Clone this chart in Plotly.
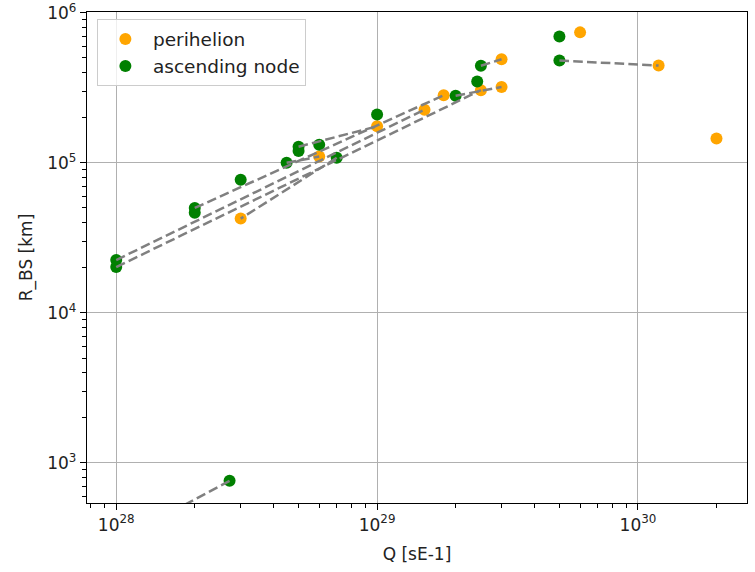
import plotly.graph_objects as go

# Perihelion points: production rate Q [s^-1] and bow shock distance R_BS [km]
peri_q = [6.0e29, 3.0e29, 3.0e29, 2.5e29, 1.8e29, 1.52e29, 1.0e29, 6.0e28, 3.0e28, 1.2e30, 2.0e30, 1.0e28]
peri_r = [7.4e5, 4.9e5, 3.2e5, 3.05e5, 2.82e5, 2.26e5, 1.75e5, 1.1e5, 4.25e4, 4.45e5, 1.45e5, 3.0e2]

# Ascending node points
asc_q = [5.0e29, 5.0e29, 2.5e29, 2.42e29, 2.0e29, 1.0e29, 5.0e28, 5.0e28, 6.0e28, 4.5e28,
         7.0e28, 3.0e28, 2.0e28, 2.0e28, 1.0e28, 1.0e28, 2.72e28]
asc_r = [6.95e5, 4.8e5, 4.43e5, 3.48e5, 2.8e5, 2.1e5, 1.28e5, 1.2e5, 1.32e5, 1.0e5,
         1.08e5, 7.7e4, 5.0e4, 4.65e4, 2.25e4, 2.02e4, 7.6e2]

# Connected pairs (index into ascending-node arrays, index into perihelion arrays)
pair_asc = [1, 2, 16, 10, 14, 15, 12, 4, 6, 9]
pair_peri = [9, 1, 11, 8, 5, 3, 4, 2, 6, 7]

x_ticks = [1e28, 1e29, 1e30]
x_text = ["10<sup>28</sup>", "10<sup>29</sup>", "10<sup>30</sup>"]
y_ticks = [1e3, 1e4, 1e5, 1e6]
y_text = ["10<sup>3</sup>", "10<sup>4</sup>", "10<sup>5</sup>", "10<sup>6</sup>"]

x_minor = [m * 10.0 ** e for e in (27, 28, 29, 30) for m in range(2, 10)]
y_minor = [m * 10.0 ** e for e in (2, 3, 4, 5) for m in range(2, 10)]

line_x, line_y = [], []
for a, p in zip(pair_asc, pair_peri):
    line_x += [asc_q[a], peri_q[p], None]
    line_y += [asc_r[a], peri_r[p], None]

FONT = "DejaVu Sans"
fig = go.Figure()
fig.add_trace(go.Scatter(x=peri_q, y=peri_r, mode="markers", name="perihelion",
                         marker=dict(color="orange", size=12, line=dict(width=0))))
fig.add_trace(go.Scatter(x=asc_q, y=asc_r, mode="markers", name="ascending node",
                         marker=dict(color="green", size=12, line=dict(width=0))))
fig.add_trace(go.Scatter(x=line_x, y=line_y, mode="lines", showlegend=False,
                         line=dict(color="gray", width=2.5, dash="9.6px,4.2px"),
                         hoverinfo="skip"))

axis_common = dict(
    type="log", showline=True, linecolor="black", linewidth=1.4, mirror=True,
    showgrid=True, gridcolor="#b0b0b0", gridwidth=1.4, zeroline=False,
    ticks="outside", ticklen=6, tickwidth=1.4, tickcolor="black", automargin=False,
    tickfont=dict(family=FONT, size=17, color="#222222"),
)

fig.update_xaxes(**axis_common, range=[27.888, 30.418], tickmode="array",
                 tickvals=x_ticks, ticktext=x_text,
                 minor=dict(tickmode="array", tickvals=x_minor, ticks="outside",
                            ticklen=3.5, tickwidth=1.1, tickcolor="black", showgrid=False),
                 title=dict(text="Q [sE-1]", font=dict(family=FONT, size=17, color="#222222"),
                            standoff=14))
fig.update_yaxes(**axis_common, range=[2.733, 6.005], tickmode="array",
                 tickvals=y_ticks, ticktext=y_text,
                 minor=dict(tickmode="array", tickvals=y_minor, ticks="outside",
                            ticklen=3.5, tickwidth=1.1, tickcolor="black", showgrid=False),
                 title=dict(text="R_BS [km]", font=dict(family=FONT, size=17, color="#222222"),
                            standoff=10))

fig.update_layout(
    width=755, height=572,
    margin=dict(l=87, r=8, t=12, b=69),
    paper_bgcolor="white", plot_bgcolor="white",
    font=dict(family=FONT, size=17, color="#222222"),
    legend=dict(x=0.015, y=0.985, xanchor="left", yanchor="top",
                bgcolor="rgba(255,255,255,0.8)", bordercolor="#cccccc", borderwidth=1,
                font=dict(family=FONT, size=18.5, color="#222222"),
                itemwidth=45, tracegroupgap=2),
    showlegend=True,
)

fig.write_html("out.html")
